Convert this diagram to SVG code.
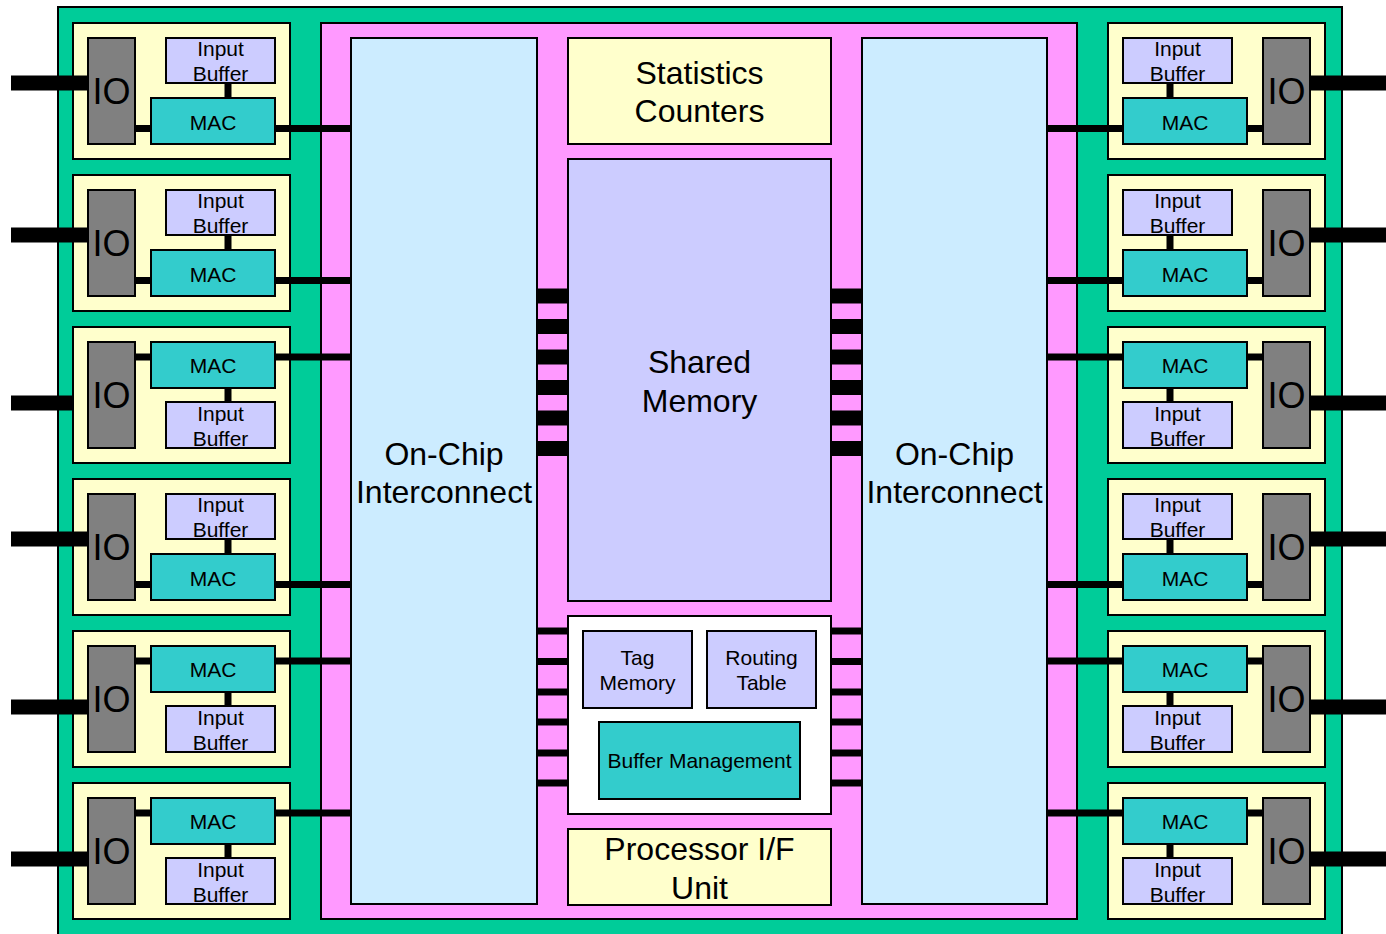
<svg xmlns="http://www.w3.org/2000/svg" width="1386" height="934" viewBox="0 0 1386 934">
<style>
.bx{stroke:#000;stroke-width:2}
.chip{fill:#00CC99}
.core{fill:#FF99FF}
.port{fill:#FFFFCC}
.io{fill:#808080}
.ib{fill:#CCCCFF}
.mac{fill:#33CCCC}
.ic{fill:#CCECFF}
.wh{fill:#FFFFFF}
.t{font-family:"Liberation Sans",Arial,sans-serif;text-anchor:middle;fill:#000}
.s21{font-size:21px}
.s32{font-size:32px}
.s36{font-size:36px}
.ln{stroke:#000;fill:none}
.ext{stroke-width:15}
.thin{stroke-width:7}
</style>
<rect width="1386" height="934" fill="#FFFFFF"/>
<g id="chip"><rect class="bx chip" x="58" y="7" width="1284" height="940"/></g>
<g id="core"><rect class="bx core" x="321" y="23" width="756" height="896"/></g>

<g id="port-containers">
<g id="portL1"><rect class="bx port" x="73" y="23" width="217" height="136"/></g>
<g id="portL2"><rect class="bx port" x="73" y="175" width="217" height="136"/></g>
<g id="portL3"><rect class="bx port" x="73" y="327" width="217" height="136"/></g>
<g id="portL4"><rect class="bx port" x="73" y="479" width="217" height="136"/></g>
<g id="portL5"><rect class="bx port" x="73" y="631" width="217" height="136"/></g>
<g id="portL6"><rect class="bx port" x="73" y="783" width="217" height="136"/></g>
<g id="portR1"><rect class="bx port" x="1108" y="23" width="217" height="136"/></g>
<g id="portR2"><rect class="bx port" x="1108" y="175" width="217" height="136"/></g>
<g id="portR3"><rect class="bx port" x="1108" y="327" width="217" height="136"/></g>
<g id="portR4"><rect class="bx port" x="1108" y="479" width="217" height="136"/></g>
<g id="portR5"><rect class="bx port" x="1108" y="631" width="217" height="136"/></g>
<g id="portR6"><rect class="bx port" x="1108" y="783" width="217" height="136"/></g>
</g>

<g id="connectors" class="ln">
<!-- external IO lines left -->
<line class="ext" x1="11" y1="83" x2="88" y2="83"/>
<line class="ext" x1="11" y1="235" x2="88" y2="235"/>
<line class="ext" x1="11" y1="403" x2="73" y2="403"/>
<line class="ext" x1="11" y1="539" x2="88" y2="539"/>
<line class="ext" x1="11" y1="707" x2="88" y2="707"/>
<line class="ext" x1="11" y1="859" x2="88" y2="859"/>
<!-- external IO lines right -->
<line class="ext" x1="1310" y1="83" x2="1386" y2="83"/>
<line class="ext" x1="1310" y1="235" x2="1386" y2="235"/>
<line class="ext" x1="1310" y1="403" x2="1386" y2="403"/>
<line class="ext" x1="1310" y1="539" x2="1386" y2="539"/>
<line class="ext" x1="1310" y1="707" x2="1386" y2="707"/>
<line class="ext" x1="1310" y1="859" x2="1386" y2="859"/>
<!-- left ports internal -->
<line class="thin" x1="135" y1="128.5" x2="351" y2="128.5"/>
<line class="thin" x1="228" y1="83" x2="228" y2="98"/>
<line class="thin" x1="135" y1="280.5" x2="351" y2="280.5"/>
<line class="thin" x1="228" y1="235" x2="228" y2="250"/>
<line class="thin" x1="135" y1="357" x2="351" y2="357"/>
<line class="thin" x1="228" y1="388" x2="228" y2="402"/>
<line class="thin" x1="135" y1="584.5" x2="351" y2="584.5"/>
<line class="thin" x1="228" y1="539" x2="228" y2="554"/>
<line class="thin" x1="135" y1="661" x2="351" y2="661"/>
<line class="thin" x1="228" y1="692" x2="228" y2="706"/>
<line class="thin" x1="135" y1="813" x2="351" y2="813"/>
<line class="thin" x1="228" y1="844" x2="228" y2="858"/>
<!-- right ports internal -->
<line class="thin" x1="1047" y1="128.5" x2="1263" y2="128.5"/>
<line class="thin" x1="1170" y1="83" x2="1170" y2="98"/>
<line class="thin" x1="1047" y1="280.5" x2="1263" y2="280.5"/>
<line class="thin" x1="1170" y1="235" x2="1170" y2="250"/>
<line class="thin" x1="1047" y1="357" x2="1263" y2="357"/>
<line class="thin" x1="1170" y1="388" x2="1170" y2="402"/>
<line class="thin" x1="1047" y1="584.5" x2="1263" y2="584.5"/>
<line class="thin" x1="1170" y1="539" x2="1170" y2="554"/>
<line class="thin" x1="1047" y1="661" x2="1263" y2="661"/>
<line class="thin" x1="1170" y1="692" x2="1170" y2="706"/>
<line class="thin" x1="1047" y1="813" x2="1263" y2="813"/>
<line class="thin" x1="1170" y1="844" x2="1170" y2="858"/>
<!-- shared memory buses -->
<g class="ext">
<line x1="537" y1="296" x2="568" y2="296"/><line x1="537" y1="326.5" x2="568" y2="326.5"/>
<line x1="537" y1="357" x2="568" y2="357"/><line x1="537" y1="387.5" x2="568" y2="387.5"/>
<line x1="537" y1="418" x2="568" y2="418"/><line x1="537" y1="448.5" x2="568" y2="448.5"/>
<line x1="831" y1="296" x2="862" y2="296"/><line x1="831" y1="326.5" x2="862" y2="326.5"/>
<line x1="831" y1="357" x2="862" y2="357"/><line x1="831" y1="387.5" x2="862" y2="387.5"/>
<line x1="831" y1="418" x2="862" y2="418"/><line x1="831" y1="448.5" x2="862" y2="448.5"/>
</g>
<!-- buffer management buses -->
<g class="thin">
<line x1="537" y1="631" x2="568" y2="631"/><line x1="537" y1="661.5" x2="568" y2="661.5"/>
<line x1="537" y1="692" x2="568" y2="692"/><line x1="537" y1="722" x2="568" y2="722"/>
<line x1="537" y1="753" x2="568" y2="753"/><line x1="537" y1="783" x2="568" y2="783"/>
<line x1="831" y1="631" x2="862" y2="631"/><line x1="831" y1="661.5" x2="862" y2="661.5"/>
<line x1="831" y1="692" x2="862" y2="692"/><line x1="831" y1="722" x2="862" y2="722"/>
<line x1="831" y1="753" x2="862" y2="753"/><line x1="831" y1="783" x2="862" y2="783"/>
</g>
</g>

<!-- Left ports -->
<g id="L1">
<rect class="bx io" x="88" y="38" width="47" height="106"/><text class="t s36" x="111.5" y="104">IO</text>
<rect class="bx ib" x="166" y="38" width="109" height="45"/><text class="t s21" x="220.5" y="56">Input</text><text class="t s21" x="220.5" y="81">Buffer</text>
<rect class="bx mac" x="151" y="98" width="124" height="46"/><text class="t s21" x="213" y="130">MAC</text>
</g>
<g id="L2">
<rect class="bx io" x="88" y="190" width="47" height="106"/><text class="t s36" x="111.5" y="256">IO</text>
<rect class="bx ib" x="166" y="190" width="109" height="45"/><text class="t s21" x="220.5" y="208">Input</text><text class="t s21" x="220.5" y="233">Buffer</text>
<rect class="bx mac" x="151" y="250" width="124" height="46"/><text class="t s21" x="213" y="282">MAC</text>
</g>
<g id="L3">
<rect class="bx io" x="88" y="342" width="47" height="106"/><text class="t s36" x="111.5" y="408">IO</text>
<rect class="bx mac" x="151" y="342" width="124" height="46"/><text class="t s21" x="213" y="373">MAC</text>
<rect class="bx ib" x="166" y="402" width="109" height="46"/><text class="t s21" x="220.5" y="421">Input</text><text class="t s21" x="220.5" y="446">Buffer</text>
</g>
<g id="L4">
<rect class="bx io" x="88" y="494" width="47" height="106"/><text class="t s36" x="111.5" y="560">IO</text>
<rect class="bx ib" x="166" y="494" width="109" height="45"/><text class="t s21" x="220.5" y="512">Input</text><text class="t s21" x="220.5" y="537">Buffer</text>
<rect class="bx mac" x="151" y="554" width="124" height="46"/><text class="t s21" x="213" y="586">MAC</text>
</g>
<g id="L5">
<rect class="bx io" x="88" y="646" width="47" height="106"/><text class="t s36" x="111.5" y="712">IO</text>
<rect class="bx mac" x="151" y="646" width="124" height="46"/><text class="t s21" x="213" y="677">MAC</text>
<rect class="bx ib" x="166" y="706" width="109" height="46"/><text class="t s21" x="220.5" y="725">Input</text><text class="t s21" x="220.5" y="750">Buffer</text>
</g>
<g id="L6">
<rect class="bx io" x="88" y="798" width="47" height="106"/><text class="t s36" x="111.5" y="864">IO</text>
<rect class="bx mac" x="151" y="798" width="124" height="46"/><text class="t s21" x="213" y="829">MAC</text>
<rect class="bx ib" x="166" y="858" width="109" height="46"/><text class="t s21" x="220.5" y="877">Input</text><text class="t s21" x="220.5" y="902">Buffer</text>
</g>

<!-- Right ports -->
<g id="R1">
<rect class="bx io" x="1263" y="38" width="47" height="106"/><text class="t s36" x="1286.5" y="104">IO</text>
<rect class="bx ib" x="1123" y="38" width="109" height="45"/><text class="t s21" x="1177.5" y="56">Input</text><text class="t s21" x="1177.5" y="81">Buffer</text>
<rect class="bx mac" x="1123" y="98" width="124" height="46"/><text class="t s21" x="1185" y="130">MAC</text>
</g>
<g id="R2">
<rect class="bx io" x="1263" y="190" width="47" height="106"/><text class="t s36" x="1286.5" y="256">IO</text>
<rect class="bx ib" x="1123" y="190" width="109" height="45"/><text class="t s21" x="1177.5" y="208">Input</text><text class="t s21" x="1177.5" y="233">Buffer</text>
<rect class="bx mac" x="1123" y="250" width="124" height="46"/><text class="t s21" x="1185" y="282">MAC</text>
</g>
<g id="R3">
<rect class="bx io" x="1263" y="342" width="47" height="106"/><text class="t s36" x="1286.5" y="408">IO</text>
<rect class="bx mac" x="1123" y="342" width="124" height="46"/><text class="t s21" x="1185" y="373">MAC</text>
<rect class="bx ib" x="1123" y="402" width="109" height="46"/><text class="t s21" x="1177.5" y="421">Input</text><text class="t s21" x="1177.5" y="446">Buffer</text>
</g>
<g id="R4">
<rect class="bx io" x="1263" y="494" width="47" height="106"/><text class="t s36" x="1286.5" y="560">IO</text>
<rect class="bx ib" x="1123" y="494" width="109" height="45"/><text class="t s21" x="1177.5" y="512">Input</text><text class="t s21" x="1177.5" y="537">Buffer</text>
<rect class="bx mac" x="1123" y="554" width="124" height="46"/><text class="t s21" x="1185" y="586">MAC</text>
</g>
<g id="R5">
<rect class="bx io" x="1263" y="646" width="47" height="106"/><text class="t s36" x="1286.5" y="712">IO</text>
<rect class="bx mac" x="1123" y="646" width="124" height="46"/><text class="t s21" x="1185" y="677">MAC</text>
<rect class="bx ib" x="1123" y="706" width="109" height="46"/><text class="t s21" x="1177.5" y="725">Input</text><text class="t s21" x="1177.5" y="750">Buffer</text>
</g>
<g id="R6">
<rect class="bx io" x="1263" y="798" width="47" height="106"/><text class="t s36" x="1286.5" y="864">IO</text>
<rect class="bx mac" x="1123" y="798" width="124" height="46"/><text class="t s21" x="1185" y="829">MAC</text>
<rect class="bx ib" x="1123" y="858" width="109" height="46"/><text class="t s21" x="1177.5" y="877">Input</text><text class="t s21" x="1177.5" y="902">Buffer</text>
</g>

<!-- Core -->
<g id="interconnectL">
<rect class="bx ic" x="351" y="38" width="186" height="866"/>
<text class="t s32" x="444" y="465">On-Chip</text><text class="t s32" x="444" y="503">Interconnect</text>
</g>
<g id="interconnectR">
<rect class="bx ic" x="862" y="38" width="185" height="866"/>
<text class="t s32" x="954.5" y="465">On-Chip</text><text class="t s32" x="954.5" y="503">Interconnect</text>
</g>
<g id="stats">
<rect class="bx port" x="568" y="38" width="263" height="106"/>
<text class="t s32" x="699.5" y="84">Statistics</text><text class="t s32" x="699.5" y="122">Counters</text>
</g>
<g id="sharedMemory">
<rect class="bx ib" x="568" y="159" width="263" height="442"/>
<text class="t s32" x="699.5" y="373">Shared</text><text class="t s32" x="699.5" y="412">Memory</text>
</g>
<g id="control">
<rect class="bx wh" x="568" y="616" width="263" height="198"/>
</g>
<g id="tagMemory">
<rect class="bx ib" x="583" y="631" width="109" height="77"/>
<text class="t s21" x="637.5" y="665">Tag</text><text class="t s21" x="637.5" y="690">Memory</text>
</g>
<g id="routingTable">
<rect class="bx ib" x="707" y="631" width="109" height="77"/>
<text class="t s21" x="761.5" y="665">Routing</text><text class="t s21" x="761.5" y="690">Table</text>
</g>
<g id="bufferManagement">
<rect class="bx mac" x="599" y="722" width="201" height="77"/>
<text class="t s21" x="699.5" y="768">Buffer Management</text>
</g>
<g id="processorIF">
<rect class="bx port" x="568" y="829" width="263" height="76"/>
<text class="t s32" x="699.5" y="860">Processor I/F</text><text class="t s32" x="699.5" y="899">Unit</text>
</g>
</svg>
